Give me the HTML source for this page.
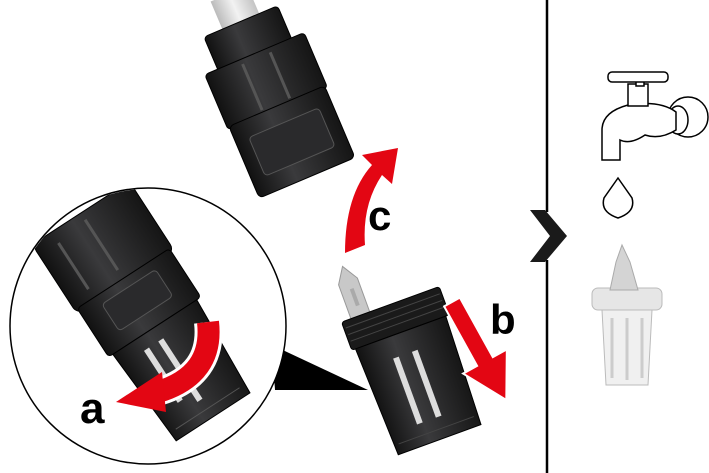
<!DOCTYPE html>
<html><head><style>
html,body{margin:0;padding:0;background:#fff;width:709px;height:473px;overflow:hidden}
svg{display:block}
text{font-family:"Liberation Sans",sans-serif;font-weight:bold;fill:#000}
</style></head><body>
<svg width="709" height="473" viewBox="0 0 709 473">
<defs>
<linearGradient id="blk" x1="0" x2="1" y1="0" y2="0">
<stop offset="0" stop-color="#111"/><stop offset="0.4" stop-color="#3a3a3c"/><stop offset="1" stop-color="#151515"/>
</linearGradient>
<linearGradient id="pipe" x1="0" x2="1"><stop offset="0" stop-color="#bbb"/><stop offset="0.5" stop-color="#f2f2f2"/><stop offset="1" stop-color="#c4c4c4"/></linearGradient>
<clipPath id="cc"><circle cx="148" cy="326" r="137"/></clipPath>
</defs>
<!-- divider -->
<line x1="547" y1="0" x2="547" y2="212" stroke="#000" stroke-width="2.5"/>
<line x1="547" y1="260" x2="547" y2="473" stroke="#000" stroke-width="2.5"/>
<polygon points="530,210 545,210 567,236 545,262 530,262 550,236" fill="#1a1a1a"/>

<!-- top connector -->
<g transform="translate(272,95) rotate(-23)">
<rect x="-20" y="-110" width="40" height="80" fill="url(#pipe)"/>
<rect x="-40" y="-80" width="80" height="42" rx="4" fill="url(#blk)" stroke="#000"/>
<rect x="-54" y="-45" width="108" height="60" rx="4" fill="url(#blk)" stroke="#000"/>
<rect x="-52" y="12" width="104" height="78" rx="5" fill="url(#blk)" stroke="#000"/>
<rect x="-38" y="30" width="76" height="42" rx="4" fill="#2a2a2c" stroke="#555"/>
<line x1="-15" y1="-40" x2="-15" y2="10" stroke="#555" stroke-width="3"/>
<line x1="15" y1="-40" x2="15" y2="10" stroke="#555" stroke-width="3"/>
</g>

<!-- red arrow c -->
<path d="M345,253 Q345,195 372,165 L362,155 L398,148 L392,184 L382,175 Q362,205 365,245 Z" fill="#e30613"/>
<text x="368" y="230" font-size="42">c</text>

<!-- circle zoom -->
<polygon points="272,345 368,390 275,390" fill="#000"/>
<circle cx="148" cy="326" r="138" fill="#fff" stroke="#000" stroke-width="1.5"/>
<g clip-path="url(#cc)">
<g transform="translate(145,312) rotate(-33)">
<rect x="-58" y="-118" width="116" height="83" rx="8" fill="url(#blk)" stroke="#000"/>
<rect x="-55" y="-40" width="110" height="58" rx="4" fill="url(#blk)" stroke="#000"/>
<rect x="-32" y="-30" width="64" height="32" rx="4" fill="#2a2a2c" stroke="#555"/>
<path d="M-50,18 L50,18 L44,125 L-44,125 Z" fill="url(#blk)" stroke="#000"/>
<rect x="-22" y="32" width="6" height="62" fill="#ddd"/>
<rect x="-5" y="32" width="6" height="72" fill="#ddd"/>
<line x1="-38" y1="115" x2="38" y2="115" stroke="#555"/>
<line x1="-35" y1="-105" x2="-35" y2="-50" stroke="#555" stroke-width="3"/>
<line x1="0" y1="-110" x2="0" y2="-50" stroke="#555" stroke-width="3"/>
</g>
</g>
<path d="M208,322 Q214,375 158,392" fill="none" stroke="#fff" stroke-width="28"/>
<path d="M208,322 Q214,375 158,392" fill="none" stroke="#e30613" stroke-width="22"/>
<polygon points="162,372 116,402 166,412" fill="#e30613"/>
<text x="80" y="423" font-size="44">a</text>

<!-- insert -->
<g transform="translate(415,372) rotate(-20)">
<path d="M-42,-72 L-42,-108 L-32,-124 L-22,-108 L-22,-72 Z" fill="#c8c8c8" stroke="#999"/>
<rect x="-33" y="-100" width="4" height="18" fill="#aaa"/>
<rect x="-52" y="-72" width="104" height="30" rx="3" fill="#1a1a1a" stroke="#000"/>
<line x1="-50" y1="-65" x2="50" y2="-65" stroke="#444"/>
<line x1="-50" y1="-58" x2="50" y2="-58" stroke="#444"/>
<line x1="-50" y1="-51" x2="50" y2="-51" stroke="#444"/>
<path d="M-48,-42 L48,-42 L44,72 L-44,72 Z" fill="url(#blk)" stroke="#000"/>
<rect x="-16" y="-20" width="6" height="70" fill="#ddd"/>
<rect x="4" y="-20" width="6" height="70" fill="#ddd"/>
<line x1="-40" y1="62" x2="40" y2="62" stroke="#444"/>
</g>
<!-- red arrow b -->
<g transform="translate(452,302) rotate(61)">
<polygon points="0,-9 68,-9 68,-25 112,0 68,25 68,9 0,9" fill="#e30613" stroke="#fff" stroke-width="2"/>
</g>
<text x="490" y="334" font-size="42">b</text>

<!-- tap -->
<g fill="#fff" stroke="#000" stroke-width="1.5">
<circle cx="688" cy="117" r="20"/>
<ellipse cx="678" cy="120" rx="10" ry="14"/>
<path d="M628,105 Q660,100 676,112 L676,130 Q660,140 645,135 Q630,145 620,140 L620,160 L602,160 L602,130 Q602,112 628,105 Z"/>
<rect x="628" y="84" width="20" height="22"/>
<rect x="636" y="80" width="8" height="6"/>
<rect x="608" y="72" width="60" height="10" rx="4"/>
<path d="M618,218 Q600,212 604,198 L618,178 L632,198 Q636,212 618,218 Z"/>
</g>

<!-- filter part -->
<g>
<rect x="592" y="288" width="70" height="22" rx="6" fill="#e6e6e6" stroke="#bbb"/>
<path d="M602,310 L652,310 L648,385 L606,385 Z" fill="#f0f0f0" stroke="#bbb"/>
<path d="M610,290 L616,262 L622,245 L630,262 L638,290 Z" fill="#d4d4d4" stroke="#aaa"/>
<line x1="612" y1="318" x2="612" y2="378" stroke="#ccc" stroke-width="3"/>
<line x1="627" y1="318" x2="627" y2="380" stroke="#ccc" stroke-width="3"/>
<line x1="642" y1="318" x2="642" y2="378" stroke="#ccc" stroke-width="3"/>
</g>
</svg>
</body></html>
